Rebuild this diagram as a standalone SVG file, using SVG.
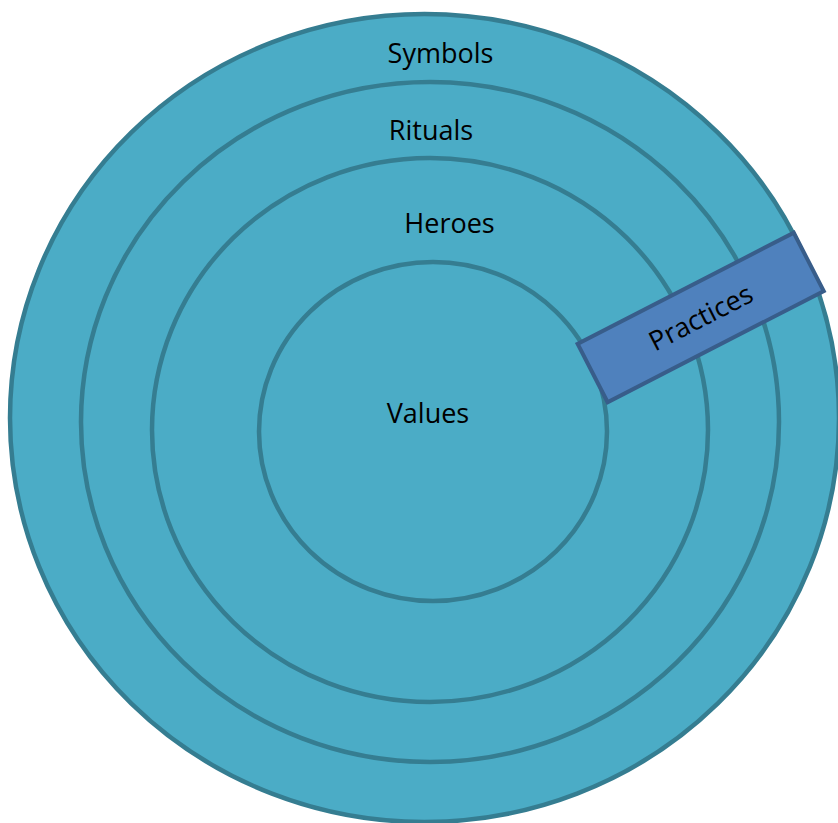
<svg xmlns="http://www.w3.org/2000/svg" width="838" height="823" viewBox="0 0 838 823">
  <style>
    .ring { fill: #4bacc6; stroke: #357d91; stroke-width: 4.5; }
    .box { fill: #4f81bd; stroke: #385d8a; stroke-width: 4; }
    .lbl { font-family: "Open Sans", "Noto Sans", sans-serif; font-size: 27px; fill: #000; text-anchor: middle; }
  </style>
  <rect width="838" height="823" fill="#ffffff"/>
  <g id="symbols">
    <ellipse class="ring" cx="424.5" cy="418" rx="414.5" ry="404"/>
    <text class="lbl" x="440.5" y="63">Symbols</text>
  </g>
  <g id="rituals">
    <ellipse class="ring" cx="430" cy="422" rx="349" ry="340"/>
    <text class="lbl" x="431" y="140">Rituals</text>
  </g>
  <g id="heroes">
    <ellipse class="ring" cx="430" cy="430" rx="278" ry="272"/>
    <text class="lbl" x="449.5" y="233">Heroes</text>
  </g>
  <g id="values">
    <ellipse class="ring" cx="433" cy="431.5" rx="174" ry="169.5"/>
    <text class="lbl" x="428" y="423">Values</text>
  </g>
  <g id="practices" transform="translate(700.7,317.5) rotate(-27.2)">
    <rect class="box" x="-121.5" y="-32.8" width="243" height="65.6"/>
    <text class="lbl" x="0" y="9.5" font-size="26">Practices</text>
  </g>
  <g id="connectors"/>
</svg>
